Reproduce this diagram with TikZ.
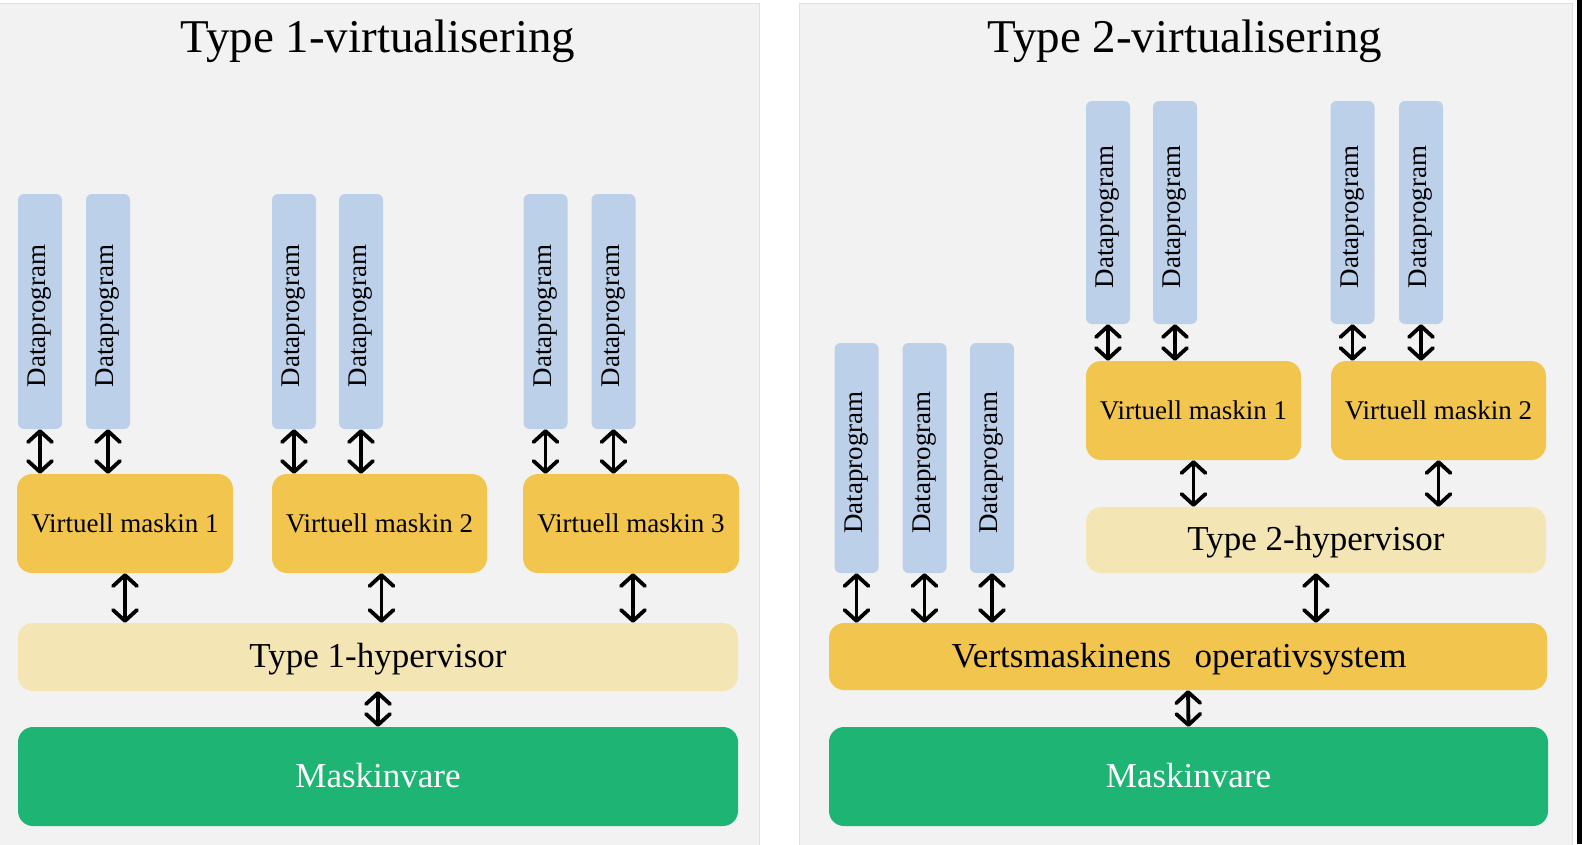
\documentclass[tikz,border=0pt]{standalone}
\usepackage{fontspec}
\setmainfont{Liberation Serif}
\usetikzlibrary{arrows.meta}
\definecolor{panelbg}{HTML}{F2F2F2}
\definecolor{panelline}{HTML}{E0E0E0}
\definecolor{dpcol}{HTML}{BDD0E9}
\definecolor{vmcol}{HTML}{F2C54F}
\definecolor{hypcol}{HTML}{F3E6B4}
\definecolor{hwcol}{HTML}{1EB473}
\newcommand{\dptext}{Dataprogram\rule{9pt}{0pt}}
\tikzset{
  panel/.style={fill=panelbg, draw=panelline, line width=1pt},
  titletext/.style={anchor=base, font=\fontsize{47}{56}\selectfont},
  dpbox/.style={fill=dpcol, rounded corners=6pt, inner sep=0pt, minimum height=44pt, rotate=90, font=\fontsize{27}{32}\selectfont},
  vmbox/.style={fill=vmcol, rounded corners=15pt, inner sep=0pt, minimum width=215pt, minimum height=99pt, font=\fontsize{27}{32}\selectfont},
  bigtext/.style={text height=21pt, text depth=0pt, font=\fontsize{35}{42}\selectfont},
  hypbox/.style={fill=hypcol, rounded corners=15pt, inner sep=0pt, bigtext},
  osbox/.style={fill=vmcol, rounded corners=15pt, inner sep=0pt, bigtext},
  hwbox/.style={fill=hwcol, rounded corners=15pt, inner sep=0pt, minimum height=99pt, text=white, bigtext},
  link/.style={line width=3.8pt, {Straight Barb[length=11pt,width=24pt,round]}-{Straight Barb[length=11pt,width=24pt,round]}},
}
\begin{document}
\begin{tikzpicture}[x=1pt,y=-1pt]
\useasboundingbox (0,0) rectangle (1582,844);
\fill[white] (0,0) rectangle (1582,844);
\draw[panel] (-2,3) rectangle (759,850);
\draw[panel] (799,3) rectangle (1572,850);
\fill[black] (1577,0) rectangle (1582,844);

% ---------- Left: Type 1 ----------
\node[titletext] (t1) at (378,52) {Type 1-virtualisering};

\node[dpbox, minimum width=235pt] (a1) at (40,311.5) {\dptext};
\node[dpbox, minimum width=235pt] (a2) at (108,311.5) {\dptext};
\node[dpbox, minimum width=235pt] (a3) at (294,311.5) {\dptext};
\node[dpbox, minimum width=235pt] (a4) at (361,311.5) {\dptext};
\node[dpbox, minimum width=235pt] (a5) at (545.5,311.5) {\dptext};
\node[dpbox, minimum width=235pt] (a6) at (613.5,311.5) {\dptext};

\node[vmbox, minimum width=216pt] (v1) at (125,523.5) {Virtuell maskin 1};
\node[vmbox] (v2) at (379.5,523.5) {Virtuell maskin 2};
\node[vmbox, minimum width=216pt] (v3) at (631,523.5) {Virtuell maskin 3};

\node[hypbox, minimum width=720pt, minimum height=68pt] (h1) at (378,657) {Type 1-hypervisor};
\node[hwbox, minimum width=720pt] (m1) at (378,776.5) {Maskinvare};

\draw[link] (a1.west) -- (a1.west |- v1.north);
\draw[link] (a2.west) -- (a2.west |- v1.north);
\draw[link] (a3.west) -- (a3.west |- v2.north);
\draw[link] (a4.west) -- (a4.west |- v2.north);
\draw[link] (a5.west) -- (a5.west |- v3.north);
\draw[link] (a6.west) -- (a6.west |- v3.north);
\draw[link] (v1.south) -- (v1.south |- h1.north);
\draw[link] ([xshift=2pt]v2.south) -- ([xshift=2pt]v2.south |- h1.north);
\draw[link] ([xshift=2pt]v3.south) -- ([xshift=2pt]v3.south |- h1.north);
\draw[link] (h1.south) -- (m1.north);

% ---------- Right: Type 2 ----------
\node[titletext] (t2) at (1185,52) {Type 2-virtualisering};

\node[dpbox, minimum width=230pt] (b1) at (856.5,458) {\dptext};
\node[dpbox, minimum width=230pt] (b2) at (924.5,458) {\dptext};
\node[dpbox, minimum width=230pt] (b3) at (992,458) {\dptext};

\node[dpbox, minimum width=223pt] (c1) at (1108,212.5) {\dptext};
\node[dpbox, minimum width=223pt] (c2) at (1175,212.5) {\dptext};
\node[dpbox, minimum width=223pt] (c3) at (1352.5,212.5) {\dptext};
\node[dpbox, minimum width=223pt] (c4) at (1421,212.5) {\dptext};

\node[vmbox] (w1) at (1193.5,410.5) {Virtuell maskin 1};
\node[vmbox] (w2) at (1438.5,410.5) {Virtuell maskin 2};

\node[hypbox, minimum width=460pt, minimum height=66pt] (h2) at (1316,540) {Type 2-hypervisor};
\node[osbox, minimum width=718pt, minimum height=67pt] (os) at (1188,656.5) {Vertsmaskinens\ \ \,operativsystem\rule{18pt}{0pt}};
\node[hwbox, minimum width=719pt] (m2) at (1188.5,776.5) {Maskinvare};

\draw[link] (b1.west) -- (b1.west |- os.north);
\draw[link] (b2.west) -- (b2.west |- os.north);
\draw[link] (b3.west) -- (b3.west |- os.north);
\draw[link] (c1.west) -- (c1.west |- w1.north);
\draw[link] (c2.west) -- (c2.west |- w1.north);
\draw[link] (c3.west) -- (c3.west |- w2.north);
\draw[link] (c4.west) -- (c4.west |- w2.north);
\draw[link] (w1.south) -- (w1.south |- h2.north);
\draw[link] (w2.south) -- (w2.south |- h2.north);
\draw[link] (h2.south) -- (h2.south |- os.north);
\draw[link] (os.south) -- (m2.north);
\end{tikzpicture}
\end{document}
